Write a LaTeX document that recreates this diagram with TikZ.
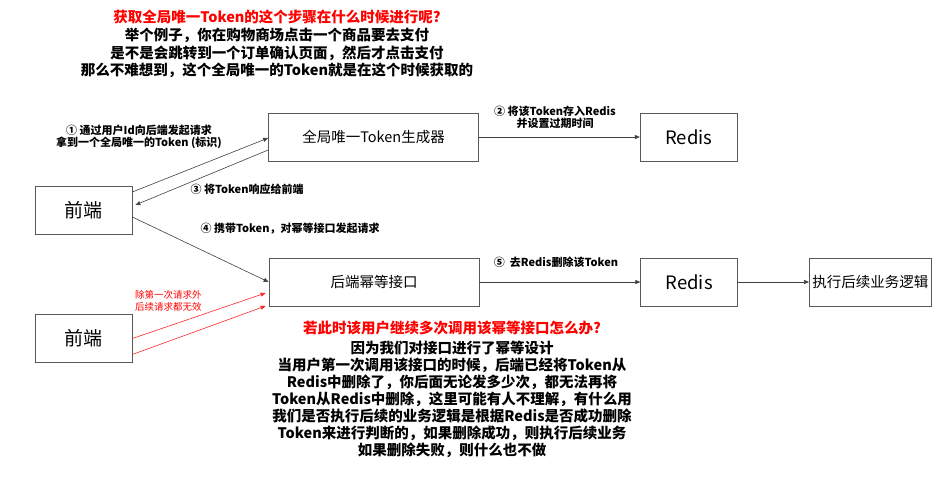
\documentclass[tikz,border=0pt]{standalone}
\usepackage{fontspec}
\setmainfont{Noto Sans CJK SC}
\usepackage{xcolor}
\usetikzlibrary{arrows.meta, positioning}

\begin{document}
\begin{tikzpicture}[
  x=1pt, y=-1pt,
  box/.style={rectangle, draw=black!65, line width=0.7pt, minimum height=48pt, inner sep=0pt, font=\fontsize{14.5}{17}\selectfont},
  arr/.style={-{Triangle[length=5pt, width=4pt]}, draw=black!75, line width=0.6pt},
  redarr/.style={-{Triangle[length=5pt, width=4pt]}, draw=red!85, line width=0.6pt},
  lbl/.style={align=center, inner sep=0pt, font=\fontsize{11}{12.5}\selectfont\bfseries},
  note/.style={align=center, inner sep=0pt, font=\fontsize{14.5}{17.5}\selectfont\bfseries}
]
  \useasboundingbox (0,0) rectangle (951,477);

  % top row
  \node[box, minimum width=210pt] (gen) at (373.5,137) {全局唯一Token生成器};
  \node[box, minimum width=97pt, right=161pt of gen, font=\fontsize{18.5}{20}\selectfont] (redisA) {Redis};
  \node[box, minimum width=97pt, font=\fontsize{19}{20}\selectfont] (fe1) at (83.5,210) {前端};

  % bottom row
  \node[box, minimum width=210pt] (be) at (374,282) {后端幂等接口};
  \node[box, minimum width=97pt, right=161pt of be, font=\fontsize{18.5}{20}\selectfont] (redisB) {Redis};
  \node[box, minimum width=122pt, right=71pt of redisB] (exec) {执行后续业务逻辑};
  \node[box, minimum width=97pt, font=\fontsize{19}{20}\selectfont] (fe2) at (83.5,338.5) {前端};

  \draw[arr] ([yshift=18pt]fe1.east) -- ([yshift=-1pt]gen.west);
  \draw[arr] (gen.east) -- (redisA.west);
  \draw[arr] ([yshift=-13pt]gen.west) -- ([xshift=3pt, yshift=5pt]fe1.east);
  \draw[arr] ([yshift=-7pt]fe1.east) -- (be.west);
  \draw[arr] (be.east) -- (redisB.west);
  \draw[arr] (redisB.east) -- (exec.west);

  % repeated requests
  \draw[redarr] (fe2.east) -- ([xshift=-3pt, yshift=-11pt]be.west);
  \draw[redarr] ([yshift=-16pt]fe2.east) -- ([xshift=-3pt, yshift=-24pt]be.west);

  \node[lbl] (l1) at (139,137) {① 通过用户Id向后端发起请求\\拿到一个全局唯一的Token (标识)};
  \node[lbl] (l2) at (555,117.5) {② 将该Token存入Redis\\并设置过期时间};
  \node[lbl] (l3) at (247,189) {③ 将Token响应给前端};
  \node[lbl] (l4) at (290,229) {④ 携带Token，对幂等接口发起请求};
  \node[lbl] (l5) at (556,262) {⑤\ \ 去Redis删除该Token};
  \node[align=left, inner sep=0pt, text=red, font=\fontsize{9.5}{12}\selectfont, anchor=west] (lred) at (135,301) {除第一次请求外\\后续请求都无效};

  % notes
  \node[note, text=red] (q1) at (277,17) {获取全局唯一Token的这个步骤在什么时候进行呢?};
  \node[note] (a1) at (277,53) {举个例子，你在购物商场点击一个商品要去支付\\是不是会跳转到一个订单确认页面，然后才点击支付\\那么不难想到，这个全局唯一的Token就是在这个时候获取的};
  \node[note, text=red] (q2) at (452,328) {若此时该用户继续多次调用该幂等接口怎么办?};
  \node[note, font=\fontsize{14.5}{17}\selectfont\bfseries] (a2) at (452,399) {因为我们对接口进行了幂等设计\\当用户第一次调用该接口的时候，后端已经将Token从\\Redis中删除了，你后面无论发多少次，都无法再将\\Token从Redis中删除，这里可能有人不理解，有什么用\\我们是否执行后续的业务逻辑是根据Redis是否成功删除\\Token来进行判断的，如果删除成功，则执行后续业务\\如果删除失败，则什么也不做};
\end{tikzpicture}
\end{document}
